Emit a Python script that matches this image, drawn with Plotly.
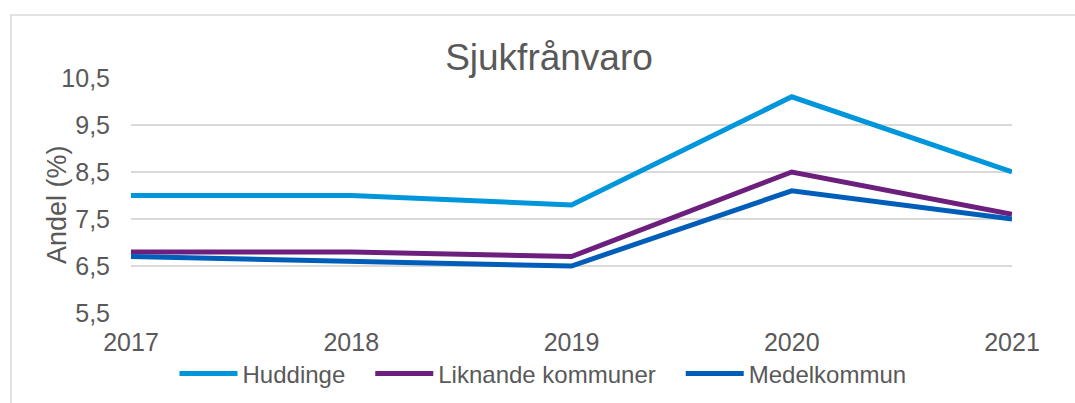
import plotly.graph_objects as go

years = [2017, 2018, 2019, 2020, 2021]
huddinge = [8.0, 8.0, 7.8, 10.1, 8.5]
liknande = [6.8, 6.8, 6.7, 8.5, 7.6]
medel = [6.7, 6.6, 6.5, 8.1, 7.5]
y_ticks = [5.5, 6.5, 7.5, 8.5, 9.5, 10.5]
y_ticktext = ["5,5", "6,5", "7,5", "8,5", "9,5", "10,5"]

series = [
    ("Huddinge", huddinge, "#0096DB"),
    ("Liknande kommuner", liknande, "#6C1F7D"),
    ("Medelkommun", medel, "#005EB8"),
]

fig = go.Figure()
for i, (name, vals, col) in enumerate(series):
    pad = "\u00a0\u00a0\u00a0" if i < len(series) - 1 else ""
    fig.add_trace(go.Scatter(x=years, y=vals, mode="lines", name=name + pad,
                             line=dict(color=col, width=5)))

font_family = "Liberation Sans, Arial, sans-serif"
grey = "#595959"

fig.update_layout(
    width=1075, height=403,
    margin=dict(l=131, r=63, t=78, b=90, autoexpand=False),
    paper_bgcolor="white", plot_bgcolor="white",
    font=dict(family=font_family, color=grey, size=16),
    title=dict(text="Sjukfrånvaro", x=549 / 1075, xref="container", xanchor="center",
               y=1 - 57 / 403, yref="container", yanchor="middle",
               font=dict(size=37, color=grey, family=font_family)),
    xaxis=dict(range=[2017, 2021], tickvals=years, ticktext=[str(y) for y in years],
               showgrid=False, zeroline=False, showline=False,
               ticks="outside", ticklen=7, tickcolor="rgba(0,0,0,0)",
               tickfont=dict(size=25, color=grey)),
    yaxis=dict(range=[5.5, 10.5], tickvals=y_ticks, ticktext=y_ticktext,
               showgrid=True, gridcolor="#D9D9D9", gridwidth=1.5, zeroline=False,
               ticks="outside", ticklen=15, tickcolor="rgba(0,0,0,0)",
               tickfont=dict(size=25, color=grey)),
    legend=dict(orientation="h", x=543 / 1075, xref="container", xanchor="center",
                y=1 - 374 / 403, yref="container", yanchor="middle",
                font=dict(size=24, color=grey), itemwidth=58,
                bgcolor="rgba(0,0,0,0)", tracegroupgap=0),
    showlegend=True,
)

fig.add_annotation(text="Andel (%)", textangle=-90, showarrow=False,
                   xref="paper", yref="paper",
                   x=(57 - 131) / 881, y=(313 - 205) / 235,
                   xanchor="center", yanchor="middle",
                   font=dict(size=27, color=grey, family=font_family))

fig.add_shape(type="rect", xref="paper", yref="paper",
              x0=(11 - 131) / 881, x1=1.1, y0=-0.45, y1=(313 - 15) / 235,
              line=dict(color="#D9D9D9", width=1.5), fillcolor="rgba(0,0,0,0)", layer="below")

fig.write_html("out.html", config={"displayModeBar": False},
               post_script="document.body.style.margin='0';document.body.style.overflow='hidden';")
